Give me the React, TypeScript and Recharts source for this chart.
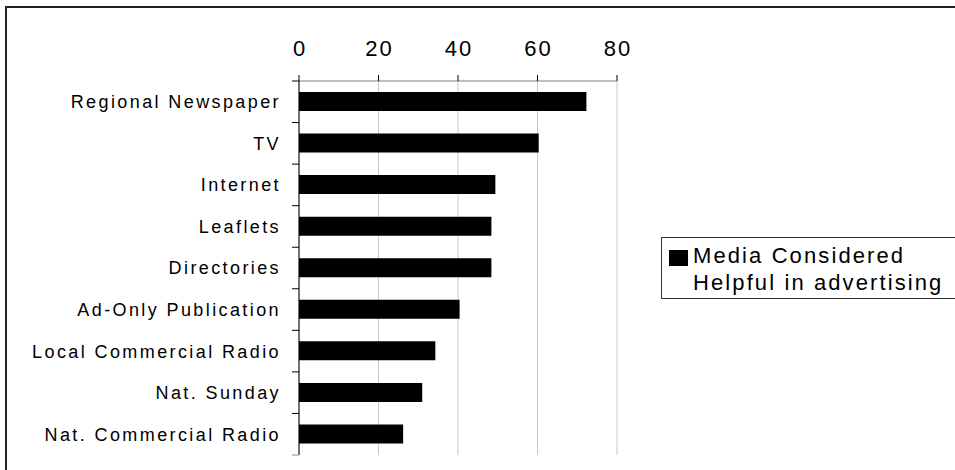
import { BarChart, Bar, XAxis, YAxis, CartesianGrid, Legend } from "recharts";

const categories = [
  "Regional Newspaper",
  "TV",
  "Internet",
  "Leaflets",
  "Directories",
  "Ad-Only Publication",
  "Local Commercial Radio",
  "Nat. Sunday",
  "Nat. Commercial Radio",
];
const helpful = [72.3, 60.3, 49.4, 48.4, 48.4, 40.4, 34.3, 31, 26.2];
const xTicks = [0, 20, 40, 60, 80];
const seriesName = "Media Considered Helpful in advertising";

const data = categories.map((name, i) => ({ name, helpful: helpful[i] }));

const FONT = "'Liberation Sans', Arial, sans-serif";

function TopTick(props: any) {
  const { x, y, payload } = props;
  return (
    <text
      x={x + 1}
      y={y - 19}
      textAnchor="middle"
      fontFamily={FONT}
      fontSize={22}
      letterSpacing={2}
      fill="#000"
    >
      {payload.value}
    </text>
  );
}

function CategoryTick(props: any) {
  const { x, y, payload, index, height, visibleTicksCount } = props;
  const band = height / visibleTicksCount;
  const isLast = index === visibleTicksCount - 1;
  return (
    <g>
      <line x1={x - 7} x2={x} y1={y - band / 2} y2={y - band / 2} stroke="#000" />
      {isLast && (
        <line x1={x - 7} x2={x} y1={y + band / 2} y2={y + band / 2} stroke="#888" />
      )}
      <text
        x={x - 18}
        y={y}
        dy="0.36em"
        textAnchor="end"
        fontFamily={FONT}
        fontSize={18}
        letterSpacing={2.4}
        fill="#000"
      >
        {payload.value}
      </text>
    </g>
  );
}

function LegendBox(props: any) {
  const item = props.payload?.[0];
  return (
    <div
      style={{
        border: "1px solid #333",
        background: "#fff",
        height: 62,
        boxSizing: "border-box",
        position: "relative",
        fontFamily: FONT,
        fontSize: 22,
        letterSpacing: 2.1,
        lineHeight: "27px",
        color: "#000",
      }}
    >
      <span
        style={{
          position: "absolute",
          left: 7,
          top: 12,
          width: 19,
          height: 16,
          background: "#000",
        }}
      />
      <div style={{ position: "absolute", left: 31, top: 4, width: 262 }}>
        {item?.value}
      </div>
    </div>
  );
}

export default function App() {
  return (
    <div
      style={{
        position: "absolute",
        left: 0,
        top: 0,
        width: 955,
        height: 470,
        overflow: "hidden",
        background: "#fff",
      }}
    >
      <div
        style={{
          position: "absolute",
          left: 5,
          top: 6,
          width: 1000,
          height: 1000,
          border: "2px solid #222",
        }}
      />
      <div style={{ position: "absolute", left: 0, top: 0 }}>
        <BarChart
          width={955}
          height={470}
          data={data}
          layout="vertical"
          margin={{ top: 41, right: 338, bottom: 15, left: 0 }}
          barSize={19}
        >
          <CartesianGrid horizontal={false} vertical stroke="#c8c8c8" />
          <XAxis
            type="number"
            orientation="top"
            domain={[0, 80]}
            ticks={xTicks}
            height={40}
            tickSize={6}
            tickMargin={0}
            axisLine={{ stroke: "#808080" }}
            tickLine={{ stroke: "#000" }}
            tick={<TopTick />}
            interval={0}
          />
          <YAxis
            type="category"
            dataKey="name"
            width={299}
            tickSize={0}
            tickMargin={0}
            axisLine={{ stroke: "#000" }}
            tickLine={false}
            tick={<CategoryTick />}
            interval={0}
          />
          <Bar
            dataKey="helpful"
            name={seriesName}
            fill="#000"
            isAnimationActive={false}
          />
          <Legend
            layout="vertical"
            align="center"
            verticalAlign="middle"
            content={<LegendBox />}
            wrapperStyle={{ left: 661, top: 237, width: 300 }}
          />
        </BarChart>
      </div>
    </div>
  );
}
